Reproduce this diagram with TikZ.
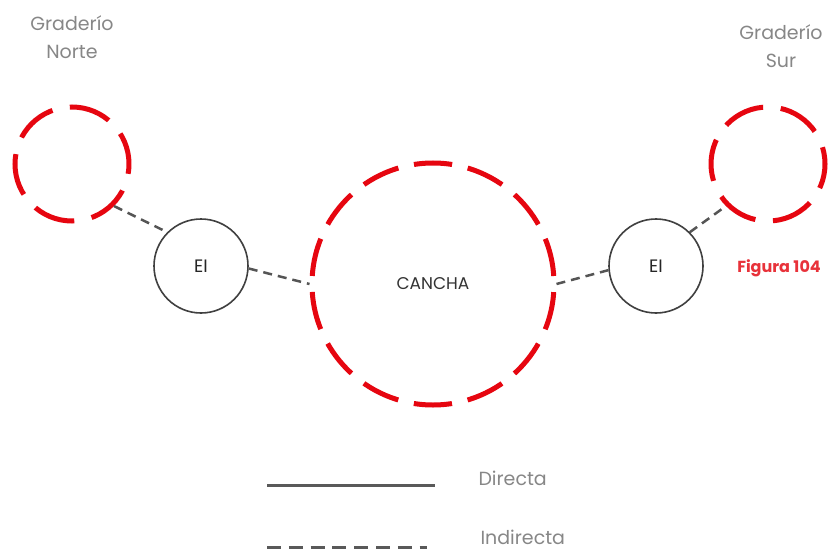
\documentclass[tikz,border=0pt]{standalone}
\usepackage{fontspec}
\setmainfont{Poppins}
\definecolor{rojo}{RGB}{230,6,16}
\definecolor{gristxt}{RGB}{135,135,135}
\definecolor{grislin}{RGB}{85,85,85}
\definecolor{figrojo}{RGB}{232,50,58}
\begin{document}
\begin{tikzpicture}[x=1pt,y=-1pt,
  bigring/.style={circle,draw=rojo,line width=5pt,minimum size=242pt,inner sep=0pt,
    dash pattern=on 38.3pt off 16pt,dash phase=46.3pt,font=\fontsize{17}{19}\selectfont,text=black!80},
  smallring/.style={circle,draw=rojo,line width=5pt,minimum size=114pt,inner sep=0pt,
    dash pattern=on 42pt off 17.7pt},
  eiring/.style={circle,draw=black!75,line width=1.6pt,minimum size=94pt,inner sep=0pt,
    font=\fontsize{18}{20}\selectfont,text=black!85},
  conn/.style={draw=grislin,line width=2.5pt,dash pattern=on 9pt off 6pt},
  lbl/.style={align=center,text=gristxt,font=\fontsize{19}{28}\selectfont}
]
\useasboundingbox (0,0) rectangle (834,556);
\fill[white] (0,0) rectangle (834,556);

\node[bigring] (cancha) at (433,284) {CANCHA};
\node[smallring,dash phase=10pt] (gn) at (72,164) {};
\node[smallring,dash phase=25pt] (gs) at (768,164) {};
\node[eiring] (eil) at (201,266) {EI};
\node[eiring] (eir) at (656,266) {EI};

\node[lbl] (tgn) at (72,37) {Graderío\\Norte};
\node[lbl] (tgs) at (781,46) {Graderío\\Sur};
\node[text=figrojo,font=\bfseries\fontsize{16}{18}\selectfont] (fig) at (779,268) {Figura 104};

\draw[conn] (gn.-45) -- (eil.135);
\draw[conn] (eil.-3) -- (cancha.west);
\draw[conn] (cancha.east) -- (eir.-175);
\draw[conn] (eir.45) -- (gs.225);

\coordinate (d1) at (267,485);
\coordinate (d2) at (435,485);
\coordinate (i1) at (267,547);
\coordinate (i2) at (427,547);
\draw[draw=black!65,line width=3pt] (d1) -- (d2);
\draw[draw=black!65,line width=3pt,dash pattern=on 14pt off 7.8pt] (i1) -- (i2);
\node[lbl,anchor=west] (tdir) at (475,478) {Directa};
\node[lbl,anchor=west] (tind) at (477,537) {Indirecta};
\end{tikzpicture}
\end{document}
